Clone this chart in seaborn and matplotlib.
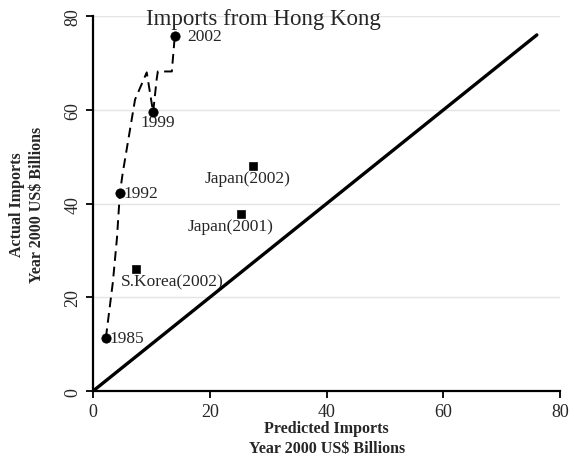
import pandas as pd
import matplotlib.pyplot as plt
import seaborn as sns

# Hong Kong path (predicted vs actual imports)
hk_pred = [2.2, 3.4, 4.1, 4.6, 5.1, 7.2, 9.2, 10.3, 10.9, 11.1, 13.5, 14.0]
hk_actual = [11.3, 23.2, 32.6, 42.2, 46.6, 62.2, 68.0, 59.5, 66.5, 68.2, 68.2, 75.7]

# labelled years on the Hong Kong path
year_labels = ["1985", "1992", "1999", "2002"]
year_pred = [2.2, 4.6, 10.3, 14.0]
year_actual = [11.3, 42.2, 59.5, 75.7]

# comparison countries
other_labels = ["S.Korea(2002)", "Japan(2002)", "Japan(2001)"]
other_pred = [7.4, 27.4, 25.3]
other_actual = [26.0, 48.0, 37.7]

# 45 degree reference
diag = [0, 76]

sns.set_style("white")
plt.rcParams["font.family"] = ["Liberation Serif", "DejaVu Serif"]

fig = plt.figure(figsize=(5.74, 4.64), dpi=100)
ax = fig.add_axes([0.162, 0.155, 0.814, 0.808])

hk = pd.DataFrame({"pred": hk_pred, "actual": hk_actual})
yrs = pd.DataFrame({"pred": year_pred, "actual": year_actual, "label": year_labels})
oth = pd.DataFrame({"pred": other_pred, "actual": other_actual, "label": other_labels})

ax.grid(axis="y", color="#e4e4e4", linewidth=1)
sns.lineplot(x=diag, y=diag, ax=ax, color="black", linewidth=2.4)
sns.lineplot(data=hk, x="pred", y="actual", sort=False, estimator=None, ax=ax,
             color="black", linewidth=1.4, linestyle=(0, (5, 3)))
sns.scatterplot(data=yrs, x="pred", y="actual", ax=ax, color="black",
                marker="o", s=45, edgecolor="black", zorder=5)
sns.scatterplot(data=oth, x="pred", y="actual", ax=ax, color="black",
                marker="s", s=35, edgecolor="black", zorder=5)

# point labels
offsets = {"1985": (0.6, 0, "left"), "1992": (0.6, 0, "left"),
           "1999": (-2.2, -2.0, "left"), "2002": (2.2, 0, "left")}
for _, r in yrs.iterrows():
    dx, dy, ha = offsets[r["label"]]
    ax.text(r["pred"] + dx, r["actual"] + dy, r["label"], ha=ha, va="center",
            fontsize=12.5)
oth_off = {"S.Korea(2002)": (-2.7, -2.5), "Japan(2002)": (-8.3, -2.6),
           "Japan(2001)": (-9.1, -2.4)}
for _, r in oth.iterrows():
    dx, dy = oth_off[r["label"]]
    ax.text(r["pred"] + dx, r["actual"] + dy, r["label"], ha="left",
            va="center", fontsize=12.5)

ax.text(9.1, 79.6, "Imports from Hong Kong", fontsize=16.5, ha="left", va="center")

ax.set_xlim(0, 80)
ax.set_ylim(0, 80)
ax.set_xticks([0, 20, 40, 60, 80])
ax.set_yticks([0, 20, 40, 60, 80])
ax.tick_params(axis="both", direction="out", length=5, width=1.3, labelsize=13,
               left=True, bottom=True, color="black")
for t in ax.get_yticklabels():
    t.set_rotation(90)
    t.set_va("center")
for side in ["top", "right"]:
    ax.spines[side].set_visible(False)
for side in ["left", "bottom"]:
    ax.spines[side].set_color("black")
    ax.spines[side].set_linewidth(1.6)

ax.set_xlabel("Predicted Imports\nYear 2000 US$ Billions", fontsize=11.5,
              fontweight="bold", labelpad=0, linespacing=1.35)
ax.set_ylabel("Actual Imports\nYear 2000 US$ Billions", fontsize=11.5,
              fontweight="bold", labelpad=14, linespacing=1.35)

fig.savefig("out.png", dpi=100)
